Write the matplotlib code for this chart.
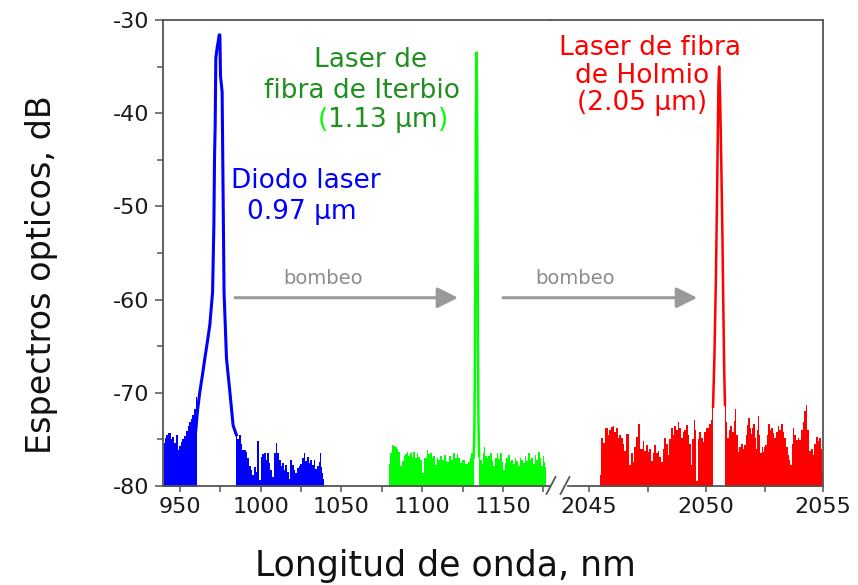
import matplotlib
matplotlib.use("Agg")
import matplotlib.pyplot as plt
from matplotlib.lines import Line2D
from matplotlib.patches import ConnectionPatch
from matplotlib.ticker import MultipleLocator

plt.rcParams['font.family'] = ['DejaVu Sans']
plt.rcParams['axes.unicode_minus'] = False

# ---------------- data (nm, dB) ----------------
blue_noise1_x = [940.0, 941.0, 941.8, 942.8, 943.8, 944.8, 945.9, 947.0, 948.0, 949.0, 950.0,
                 951.0, 952.0, 953.1, 954.2, 955.2, 956.2, 957.2, 958.3, 959.3, 960.4]
blue_noise1_y = [-75.4, -74.8, -74.5, -74.3, -74.3, -75.0, -74.7, -75.4, -74.5, -76.1, -75.7,
                 -75.3, -75.0, -74.6, -74.1, -73.6, -73.1, -72.8, -72.4, -71.7, -70.5]
blue_peak_x = [959.8, 960.8, 962.3, 964.0, 965.4, 967.0, 968.5, 970.2, 971.0, 971.4, 971.8, 972.2,
               973.0, 973.7, 974.3, 974.7, 975.1, 976.1, 976.4, 976.7, 977.3, 978.8, 980.9, 982.9, 984.9]
blue_peak_y = [-74.0, -72.0, -69.9, -68.0, -66.3, -64.5, -62.7, -59.2, -52.0, -44.8, -41.3, -34.1,
               -33.0, -32.3, -31.6, -31.6, -36.0, -37.7, -43.0, -48.5, -59.2, -66.3, -69.9, -73.5, -74.5]
blue_noise2_x = [984.9, 986.0, 987.0, 988.0, 989.0, 990.0, 991.2, 992.2, 993.2, 994.2, 995.3, 996.3,
                 997.3, 998.3, 999.4, 1000.4, 1001.5, 1002.5, 1003.5, 1004.5, 1005.5, 1006.6, 1007.6,
                 1008.7, 1009.7, 1010.7, 1011.7, 1012.8, 1013.8, 1014.8, 1015.8, 1016.9, 1017.9,
                 1018.9, 1020.0, 1021.0, 1022.0, 1023.0, 1024.1, 1025.1, 1026.2, 1027.2, 1028.2,
                 1029.2, 1030.3, 1031.3, 1032.3, 1033.3, 1034.4, 1035.4, 1036.3, 1036.8, 1037.7,
                 1038.5, 1039.2]
blue_noise2_y = [-74.5, -75.0, -74.5, -75.5, -76.1, -76.1, -76.4, -77.0, -77.9, -78.3, -78.8, -78.0,
                 -78.5, -75.2, -79.4, -76.9, -76.6, -76.5, -77.2, -76.5, -77.5, -78.3, -79.0,
                 -76.5, -75.4, -76.5, -77.2, -77.9, -77.5, -78.3, -77.7, -78.5, -79.2,
                 -77.2, -77.8, -78.3, -78.6, -78.1, -77.9, -77.6, -77.0, -76.5, -77.3,
                 -76.9, -77.5, -77.2, -77.8, -77.2, -78.2, -77.9, -77.4, -76.5, -78.0,
                 -78.6, -79.2]

green_noise1_x = [1079.6, 1080.6, 1081.7, 1082.7, 1083.7, 1084.8, 1085.8, 1086.8, 1087.9, 1088.9,
                  1089.9, 1090.9, 1092.0, 1093.0, 1094.0, 1095.0, 1096.1, 1097.1, 1098.1, 1099.2,
                  1100.8, 1102.0, 1103.3, 1104.3, 1105.4, 1106.4, 1107.4, 1108.4, 1109.5, 1110.5,
                  1111.5, 1112.6, 1114.0, 1115.0, 1116.0, 1117.7, 1118.5, 1119.3, 1120.8, 1121.8,
                  1122.8, 1123.9, 1124.9, 1125.9, 1126.9, 1128.0, 1129.0, 1130.0, 1130.9, 1131.8]
green_noise1_y = [-77.6, -76.5, -75.6, -75.7, -75.8, -76.0, -76.3, -77.9, -77.3, -76.8,
                  -76.6, -76.3, -76.8, -76.5, -76.9, -76.3, -77.0, -76.5, -76.9, -77.2,
                  -78.6, -77.0, -76.1, -76.6, -76.5, -77.0, -76.8, -77.7, -77.0, -77.2,
                  -76.8, -77.2, -76.7, -77.3, -77.4, -76.8, -77.2, -76.5, -77.0, -76.6,
                  -77.0, -77.5, -77.2, -77.2, -77.6, -77.6, -77.4, -77.0, -76.5, -77.0]
green_peak_x = [1131.8, 1132.3, 1132.7, 1133.0, 1133.3, 1133.6, 1133.9, 1134.2, 1134.5, 1134.8, 1135.2]
green_peak_y = [-77.0, -74.0, -65.0, -52.0, -40.0, -33.5, -38.0, -50.0, -64.0, -73.0, -76.8]
green_noise2_x = [1135.2, 1136.2, 1137.3, 1138.0, 1138.7, 1139.5, 1140.3, 1141.3, 1142.4, 1143.4,
                  1144.4, 1145.5, 1146.5, 1147.5, 1148.6, 1149.6, 1150.6, 1151.6, 1152.7, 1153.7,
                  1154.7, 1155.8, 1156.8, 1157.8, 1158.9, 1159.9, 1160.9, 1161.9, 1163.0, 1164.0,
                  1165.0, 1166.0, 1167.1, 1168.1, 1169.1, 1170.2, 1171.2, 1172.2, 1173.3, 1174.3,
                  1175.0, 1175.7, 1176.5]
green_noise2_y = [-76.8, -77.2, -77.6, -76.5, -75.8, -76.8, -77.0, -76.8, -76.5, -77.3,
                  -77.9, -77.0, -76.5, -77.1, -76.5, -77.4, -78.3, -77.5, -77.0, -76.7,
                  -77.4, -77.2, -77.6, -77.0, -77.3, -77.9, -77.0, -77.2, -77.5, -76.8,
                  -77.3, -76.5, -77.2, -77.0, -77.6, -76.7, -77.2, -76.3, -77.0, -77.9,
                  -76.8, -77.4, -78.0]

red_noise1_x = [2045.47, 2045.54, 2045.65, 2045.75, 2045.83, 2045.90, 2045.97, 2046.04, 2046.11,
                2046.18, 2046.26, 2046.33, 2046.40, 2046.47, 2046.54, 2046.65, 2046.75, 2046.83,
                2046.90, 2046.97, 2047.04, 2047.14, 2047.25, 2047.32, 2047.40, 2047.47, 2047.54,
                2047.61, 2047.68, 2047.75, 2047.82, 2047.90, 2047.97, 2048.04, 2048.10, 2048.18,
                2048.25, 2048.32, 2048.40, 2048.47, 2048.54, 2048.61, 2048.68, 2048.75, 2048.82,
                2048.89, 2048.96, 2049.03, 2049.10, 2049.18, 2049.25, 2049.32, 2049.39, 2049.45,
                2049.50, 2049.55, 2049.60, 2049.68, 2049.75, 2049.82, 2049.89, 2049.96, 2050.04,
                2050.10, 2050.17, 2050.24, 2050.30]
red_noise1_y = [-78.8, -74.9, -75.4, -73.8, -74.5, -74.0, -73.7, -73.6, -74.2,
                -73.8, -74.9, -74.5, -74.9, -75.5, -76.2, -74.4, -77.7, -76.5,
                -77.4, -75.8, -74.7, -73.4, -76.0, -75.2, -76.2, -75.6, -76.4,
                -76.0, -77.3, -76.5, -75.6, -76.5, -76.2, -76.9, -77.4, -76.0,
                -74.9, -75.5, -76.7, -75.0, -73.8, -74.5, -73.6, -74.0, -73.1,
                -73.8, -74.9, -74.2, -74.0, -73.5, -74.5, -75.5, -77.7, -75.0,
                -72.9, -74.0, -79.5, -75.0, -74.2, -74.8, -75.3, -74.2, -73.8,
                -73.8, -73.3, -72.9, -71.5]
red_peak_x = [2050.30, 2050.36, 2050.42, 2050.46, 2050.50, 2050.53, 2050.56, 2050.60, 2050.65,
              2050.70, 2050.74, 2050.78, 2050.81]
red_peak_y = [-71.5, -66.0, -58.0, -51.0, -43.0, -37.0, -35.0, -38.0, -45.0,
              -53.0, -61.0, -68.0, -71.3]
red_noise2_x = [2050.81, 2050.86, 2050.95, 2051.00, 2051.06, 2051.16, 2051.22, 2051.27, 2051.33,
                2051.39, 2051.46, 2051.53, 2051.59, 2051.65, 2051.74, 2051.79, 2051.84, 2051.89,
                2051.94, 2052.00, 2052.05, 2052.10, 2052.16, 2052.20, 2052.24, 2052.30, 2052.35,
                2052.40, 2052.45, 2052.51, 2052.57, 2052.63, 2052.70, 2052.76, 2052.82, 2052.89,
                2052.96, 2053.03, 2053.10, 2053.17, 2053.24, 2053.31, 2053.38, 2053.45, 2053.53,
                2053.58, 2053.64, 2053.69, 2053.74, 2053.81, 2053.88, 2053.95, 2054.03, 2054.10,
                2054.17, 2054.24, 2054.30, 2054.37, 2054.45, 2054.52, 2054.60, 2054.67, 2054.74,
                2054.81, 2054.88, 2054.94, 2054.98]
red_noise2_y = [-71.3, -73.1, -74.9, -74.0, -73.6, -74.2, -73.0, -71.7, -74.5,
                -76.4, -75.8, -75.5, -76.0, -75.6, -74.5, -73.5, -72.7, -73.8,
                -74.4, -73.8, -73.3, -74.8, -76.0, -74.0, -72.5, -74.5, -76.5,
                -75.8, -76.4, -75.8, -75.6, -74.5, -73.3, -74.0, -73.8, -74.3,
                -74.9, -74.2, -73.6, -74.0, -73.4, -74.2, -74.9, -75.8, -76.7,
                -77.2, -77.7, -75.5, -73.8, -74.5, -75.1, -74.8, -75.1, -74.0,
                -73.1, -72.0, -71.3, -74.0, -76.2, -76.0, -76.7, -75.5, -74.7,
                -75.2, -74.9, -76.0, -78.5]

left_xticks = [950, 1000, 1050, 1100, 1150]
right_xticks = [2045, 2050, 2055]
yticks = [-80, -70, -60, -50, -40, -30]

BLUE, GREEN, RED = '#0000ff', '#00ff00', '#ff0000'
DKGREEN = '#1f8f1f'
SPINE = '#555555'
GRAY = '#999999'

W, H = 858, 585
fig = plt.figure(figsize=(W / 100, H / 100), dpi=100)
x0, xb1, xb2, x1 = 163, 550, 568, 823
ytop, ybot = 20, 486
axL = fig.add_axes([x0 / W, 1 - ybot / H, (xb1 - x0) / W, (ybot - ytop) / H])
axR = fig.add_axes([xb2 / W, 1 - ybot / H, (x1 - xb2) / W, (ybot - ytop) / H])

FLOOR = -80

def spectrum(ax, nx, ny, color):
    ax.fill_between(nx, FLOOR - 1, ny, step='mid', color=color, lw=0, zorder=2)

spectrum(axL, blue_noise1_x, blue_noise1_y, BLUE)
spectrum(axL, blue_noise2_x, blue_noise2_y, BLUE)
axL.plot(blue_peak_x, blue_peak_y, color=BLUE, lw=2.2, zorder=3)
spectrum(axL, green_noise1_x, green_noise1_y, GREEN)
spectrum(axL, green_noise2_x, green_noise2_y, GREEN)
axL.plot(green_peak_x, green_peak_y, color=GREEN, lw=1.8, zorder=3)
spectrum(axR, red_noise1_x, red_noise1_y, RED)
spectrum(axR, red_noise2_x, red_noise2_y, RED)
axR.plot(red_peak_x, red_peak_y, color=RED, lw=1.8, zorder=3)

axL.set_xlim(939.5, 1179.1)
axR.set_xlim(2044.1, 2055.0)
for ax in (axL, axR):
    ax.set_ylim(-80, -30)
    for s in ax.spines.values():
        s.set_color(SPINE)
        s.set_linewidth(1.3)
    ax.tick_params(axis='both', which='both', direction='out', color=SPINE,
                   labelsize=16, labelcolor='#1a1a1a', width=1.1)
    ax.tick_params(axis='x', which='major', length=4.5, pad=3.5)
    ax.tick_params(axis='x', which='minor', length=4.5)
    ax.set_facecolor('none')

axL.set_xticks(left_xticks)
axL.xaxis.set_minor_locator(MultipleLocator(25))
axR.set_xticks(right_xticks)
axR.xaxis.set_minor_locator(MultipleLocator(2.5))
axL.set_yticks(yticks)
axL.yaxis.set_minor_locator(MultipleLocator(5))
axL.tick_params(axis='y', which='major', length=6, pad=4)
axL.tick_params(axis='y', which='minor', length=4.5)
axL.spines['right'].set_visible(False)
axR.spines['left'].set_visible(False)
axR.tick_params(axis='y', which='both', left=False, labelleft=False)

# top spine bridging the break
fig.add_artist(Line2D([xb1 / W, xb2 / W], [1 - ytop / H, 1 - ytop / H],
                      color=SPINE, lw=1.3, transform=fig.transFigure))
# break marks on bottom axis
for cx in (xb1 + 1, xb2 - 3):
    fig.add_artist(Line2D([(cx - 4.5) / W, (cx + 4.5) / W],
                          [1 - (ybot + 8) / H, 1 - (ybot - 9) / H],
                          color=SPINE, lw=1.3, transform=fig.transFigure))

# labels
axL.set_ylabel('Espectros opticos, dB', fontsize=24, color='#111111')
axL.yaxis.set_label_coords(-0.272, 0.453)
fig.text(445 / W, 1 - 576 / H, 'Longitud de onda, nm', fontsize=25, color='#111111',
         ha='center', va='baseline')

# annotations
axL.text(981.9, -48.0, 'Diodo laser', color=BLUE, fontsize=19, ha='left', va='baseline')
axL.text(991.6, -51.35, '0.97 μm', color=BLUE, fontsize=19, ha='left', va='baseline')

axL.text(1068.3, -35.0, 'Laser de', color=DKGREEN, fontsize=19, ha='center', va='baseline')
axL.text(1062.7, -38.4, 'fibra de Iterbio', color=DKGREEN, fontsize=19, ha='center', va='baseline')
tmid = axL.text(1075.7, -41.5, '1.13 μm', color=DKGREEN, fontsize=19, ha='center', va='baseline')
axL.annotate('(', xy=(0, 0), xycoords=tmid, ha='right', va='bottom', color=GREEN, fontsize=19)
axL.annotate(')', xy=(1, 0), xycoords=tmid, ha='left', va='bottom', color=GREEN, fontsize=19)

axR.text(2047.6, -33.8, 'Laser de fibra', color=RED, fontsize=19, ha='center', va='baseline')
axR.text(2047.26, -36.8, 'de Holmio', color=RED, fontsize=19, ha='center', va='baseline')
axR.text(2047.26, -39.7, '(2.05 μm)', color=RED, fontsize=19, ha='center', va='baseline')

axL.text(1013.8, -58.3, 'bombeo', color='#8c8c8c', fontsize=14, ha='left', va='baseline')
axL.text(1169.8, -58.3, 'bombeo', color='#8c8c8c', fontsize=14, ha='left', va='baseline')

arrow_kw = dict(arrowstyle='-|>,head_length=0.9,head_width=0.45', color=GRAY, lw=2.2,
                mutation_scale=14, shrinkA=0, shrinkB=0)
fig.add_artist(ConnectionPatch(xyA=(984.1, -59.8), coordsA=axL.transData,
                               xyB=(1122.2, -59.8), coordsB=axL.transData, **arrow_kw))
fig.add_artist(ConnectionPatch(xyA=(1150.0, -59.8), coordsA=axL.transData,
                               xyB=(2049.62, -59.8), coordsB=axR.transData, **arrow_kw))

fig.savefig('out.png', dpi=100)
